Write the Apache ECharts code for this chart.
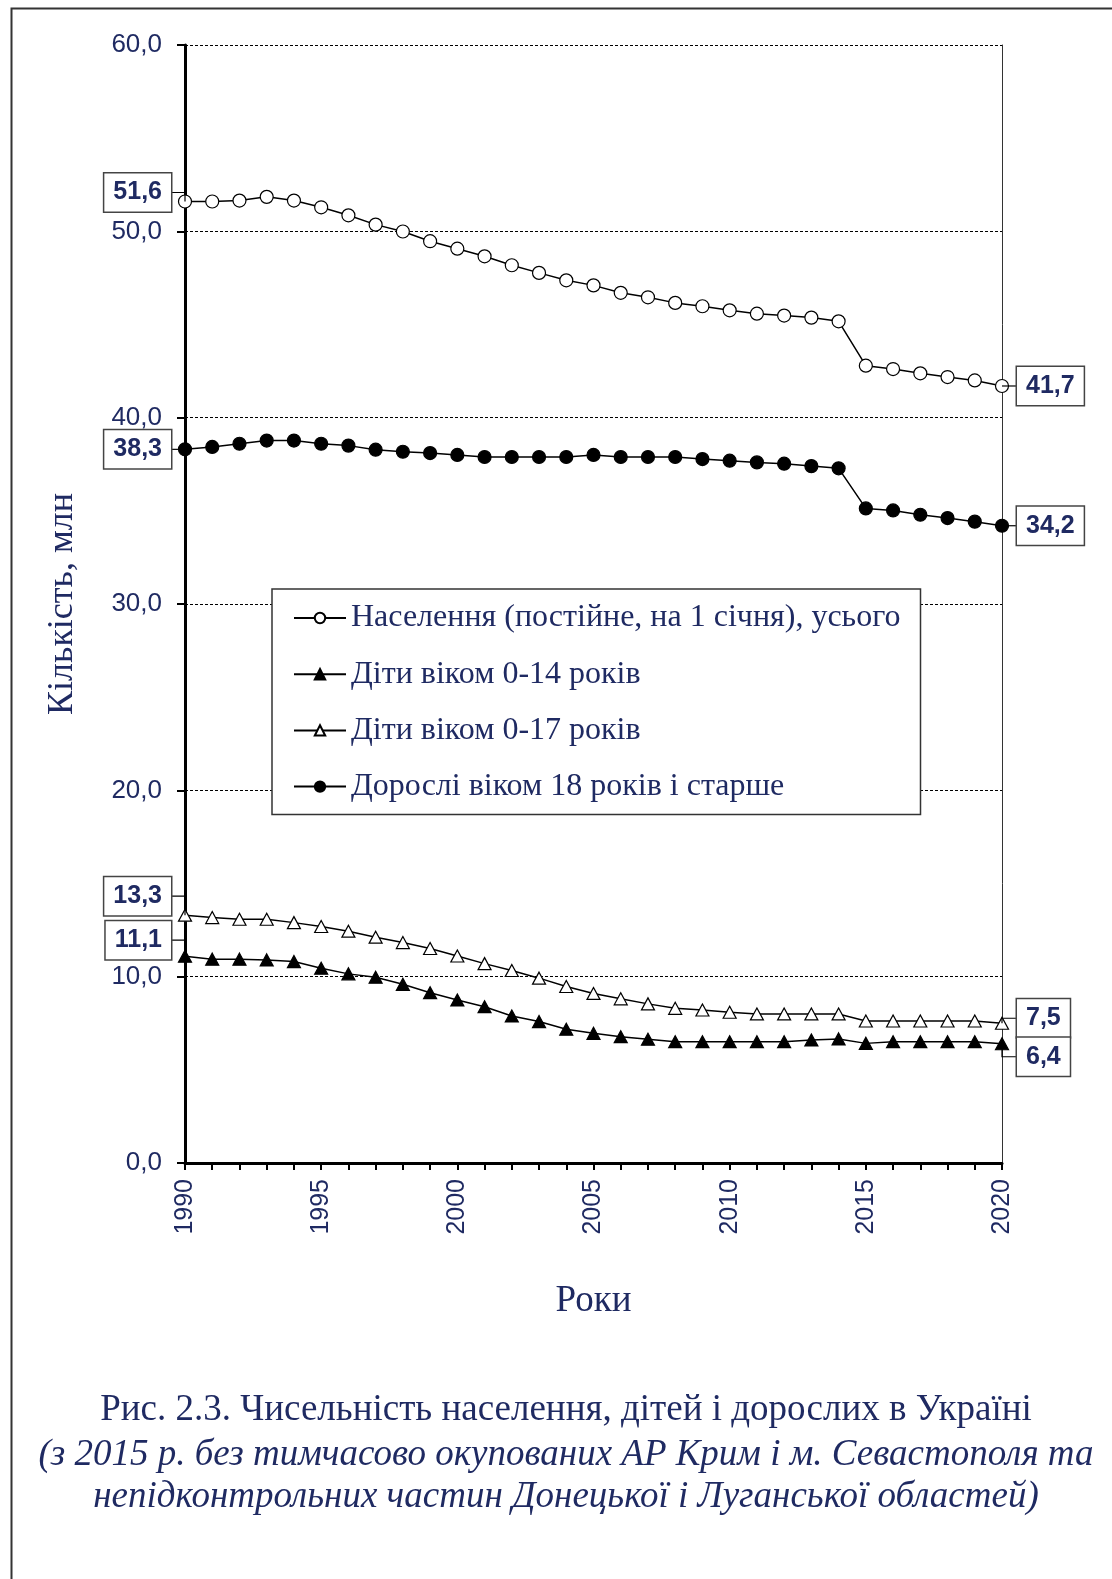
<!DOCTYPE html>
<html>
<head>
<meta charset="utf-8">
<script src="https://cdn.jsdelivr.net/npm/echarts@6/dist/echarts.min.js"></script>
<style>
  html, body { margin: 0; padding: 0; background: #fff; }
  #chart { width: 1112px; height: 1579px; }
</style>
</head>
<body>
<div id="chart"></div>
<script>
// ---------- DATA ----------
const years = ['1990','1991','1992','1993','1994','1995','1996','1997','1998','1999',
               '2000','2001','2002','2003','2004','2005','2006','2007','2008','2009',
               '2010','2011','2012','2013','2014','2015','2016','2017','2018','2019','2020'];

const yTicks = [0, 10, 20, 30, 40, 50, 60];

const population = [51.6, 51.6, 51.65, 51.85, 51.65, 51.29, 50.86, 50.36, 49.99, 49.47,
                    49.07, 48.66, 48.18, 47.77, 47.37, 47.1, 46.7, 46.46, 46.16, 45.98,
                    45.76, 45.58, 45.48, 45.37, 45.17, 42.79, 42.61, 42.38, 42.18, 42.0, 41.7];

const kids14 = [11.1, 10.94, 10.94, 10.9, 10.81, 10.45, 10.15, 9.97, 9.59, 9.14,
                8.75, 8.39, 7.89, 7.59, 7.18, 6.96, 6.78, 6.64, 6.51, 6.51,
                6.51, 6.51, 6.51, 6.6, 6.66, 6.42, 6.51, 6.51, 6.51, 6.51, 6.4];

const kids17 = [13.3, 13.17, 13.08, 13.08, 12.9, 12.69, 12.44, 12.12, 11.83, 11.51,
                11.11, 10.7, 10.33, 9.92, 9.47, 9.1, 8.81, 8.54, 8.3, 8.21,
                8.09, 8.0, 8.0, 8.0, 8.0, 7.62, 7.62, 7.62, 7.62, 7.62, 7.5];

const adults = [38.3, 38.43, 38.6, 38.77, 38.77, 38.6, 38.5, 38.28, 38.17, 38.1,
                38.0, 37.89, 37.89, 37.89, 37.89, 38.0, 37.89, 37.89, 37.89, 37.78,
                37.69, 37.6, 37.53, 37.4, 37.28, 35.13, 35.02, 34.79, 34.61, 34.42, 34.2];

const seriesNames = ['Населення (постійне, на 1 січня), усього',
                     'Діти віком 0-14 років',
                     'Діти віком 0-17 років',
                     'Дорослі віком 18 років і старше'];

const xTitle = 'Роки';
const yTitle = 'Кількість, млн';
const captionLines = ['Рис. 2.3. Чисельність населення, дітей і дорослих в Україні',
                      '(з 2015 р. без тимчасово окупованих АР Крим і м. Севастополя та',
                      'непідконтрольних частин Донецької і Луганської областей)'];

// which points carry boxed value labels (index into years)
const labelPoints = [
  { data: population, at: 0 }, { data: adults, at: 0 }, { data: kids17, at: 0 }, { data: kids14, at: 0 },
  { data: population, at: 30 }, { data: adults, at: 30 }, { data: kids17, at: 30 }, { data: kids14, at: 30 }
];

// ---------- STYLE / LAYOUT ----------
const NAVY = '#1f2a62';
const SANS = '"Liberation Sans", Arial, sans-serif';
const SERIF = '"Liberation Serif", "Times New Roman", serif';
// pixel offsets of the label boxes relative to their point (layout only)
const labelLayout = [
  { side: 'left', dy: -9 }, { side: 'left', dy: 0 }, { side: 'left', dy: -19 }, { side: 'left', dy: -16 },
  { side: 'right', dy: 0 }, { side: 'right', dy: 0 }, { side: 'right', dy: -5 }, { side: 'right', dy: 13 }
];

function fmt(v) { return v.toFixed(1).replace('.', ','); }

const chart = echarts.init(document.getElementById('chart'), null, { renderer: 'canvas' });

function lineSeries(name, data, symbol, fill, size) {
  return {
    name: name, type: 'line', data: data,
    symbol: symbol, symbolSize: size, showAllSymbol: true,
    lineStyle: { color: '#000', width: 1.5 },
    itemStyle: { color: fill, borderColor: '#000', borderWidth: 1.2 },
    emphasis: { disabled: true },
    animation: false, z: 3
  };
}

const option = {
  backgroundColor: '#fff',
  animation: false,
  grid: { left: 185, right: 110, top: 45, bottom: 416, containLabel: false },
  xAxis: {
    type: 'category', data: years, boundaryGap: false,
    axisLine: { show: true, lineStyle: { color: '#000', width: 3 } },
    axisTick: { show: true, interval: 0, length: 7, lineStyle: { color: '#000', width: 2 } },
    axisLabel: { interval: 4, rotate: 90, margin: 16, fontFamily: SANS, fontSize: 25, color: NAVY },
    splitLine: { show: false },
    name: xTitle, nameLocation: 'middle', nameGap: 120,
    nameTextStyle: { fontFamily: SERIF, fontSize: 37, color: NAVY }
  },
  yAxis: [{
    type: 'value', min: yTicks[0], max: yTicks[yTicks.length - 1], interval: 10,
    axisLine: { show: true, onZero: false, lineStyle: { color: '#000', width: 3 } },
    axisTick: { show: true, length: 8, lineStyle: { color: '#000', width: 2 } },
    axisLabel: { margin: 23, fontFamily: SANS, fontSize: 26, color: NAVY, formatter: v => fmt(v) },
    splitLine: { show: true, lineStyle: { color: '#000', width: 1, type: [3, 2] } },
    name: yTitle, nameLocation: 'middle', nameGap: 104, nameRotate: 90,
    nameTextStyle: { fontFamily: SERIF, fontSize: 36, color: NAVY }
  }, {
    type: 'value', min: yTicks[0], max: yTicks[yTicks.length - 1], interval: 10, position: 'right',
    axisLine: { show: true, lineStyle: { color: '#333', width: 1 } },
    axisTick: { show: false }, axisLabel: { show: false }, splitLine: { show: false }
  }],
  legend: {
    data: seriesNames,
    orient: 'vertical', left: 272, top: 589,
    padding: [13, 20, 12, 21],
    itemGap: 24.2, itemWidth: 52, itemHeight: 13,
    backgroundColor: '#fff', borderColor: '#333', borderWidth: 1.5, borderRadius: 0,
    textStyle: { fontFamily: SERIF, fontSize: 32, color: NAVY, lineHeight: 30 },
    selectedMode: false
  },
  series: [
    lineSeries(seriesNames[0], population, 'circle', '#fff', 13),
    lineSeries(seriesNames[1], kids14, 'triangle', '#000', [13, 12]),
    lineSeries(seriesNames[2], kids17, 'triangle', '#fff', [13, 12]),
    lineSeries(seriesNames[3], adults, 'circle', '#000', 13),
    {
      type: 'custom', name: 'labels', coordinateSystem: 'cartesian2d', clip: false, silent: true, z: 6,
      data: labelPoints.map(p => [p.at, p.data[p.at]]),
      renderItem: function (params, api) {
        const lay = labelLayout[params.dataIndex];
        const val = api.value(1);
        const pt = api.coord([api.value(0), val]);
        const cy = pt[1] + lay.dy;
        const edgeX = lay.side === 'left' ? pt[0] - 14 : pt[0] + 15;
        return {
          type: 'group',
          children: [
            { type: 'polyline', shape: { points: [[pt[0], pt[1]], [pt[0], cy], [edgeX, cy]] },
              style: { stroke: '#000', lineWidth: 1.2, fill: null }, z2: 1 },
            { type: 'text', x: edgeX, y: cy, z2: 2,
              style: { text: fmt(val), fontFamily: SANS, fontWeight: 'bold', fontSize: 25, lineHeight: 26,
                       fill: NAVY, align: lay.side === 'left' ? 'right' : 'left', verticalAlign: 'middle',
                       backgroundColor: '#fff', borderColor: '#444', borderWidth: 1.5, padding: [6, 9, 6, 9] } }
          ]
        };
      }
    }
  ],
  graphic: [
    { type: 'rect', left: 9, top: 6, shape: { x: 0, y: 0, width: 1200, height: 1700 },
      style: { fill: null, stroke: '#333', lineWidth: 2 }, z: -10, silent: true },
    { type: 'text', x: 566, y: 1410, style: { text: captionLines[0], fontFamily: SERIF, fontSize: 37, fill: NAVY, align: 'center', verticalAlign: 'middle' } },
    { type: 'text', x: 566, y: 1455, style: { text: captionLines[1], fontFamily: SERIF, fontStyle: 'italic', fontSize: 37, fill: NAVY, align: 'center', verticalAlign: 'middle' } },
    { type: 'text', x: 566, y: 1497, style: { text: captionLines[2], fontFamily: SERIF, fontStyle: 'italic', fontSize: 37, fill: NAVY, align: 'center', verticalAlign: 'middle' } }
  ]
};

chart.setOption(option);
</script>
</body>
</html>
